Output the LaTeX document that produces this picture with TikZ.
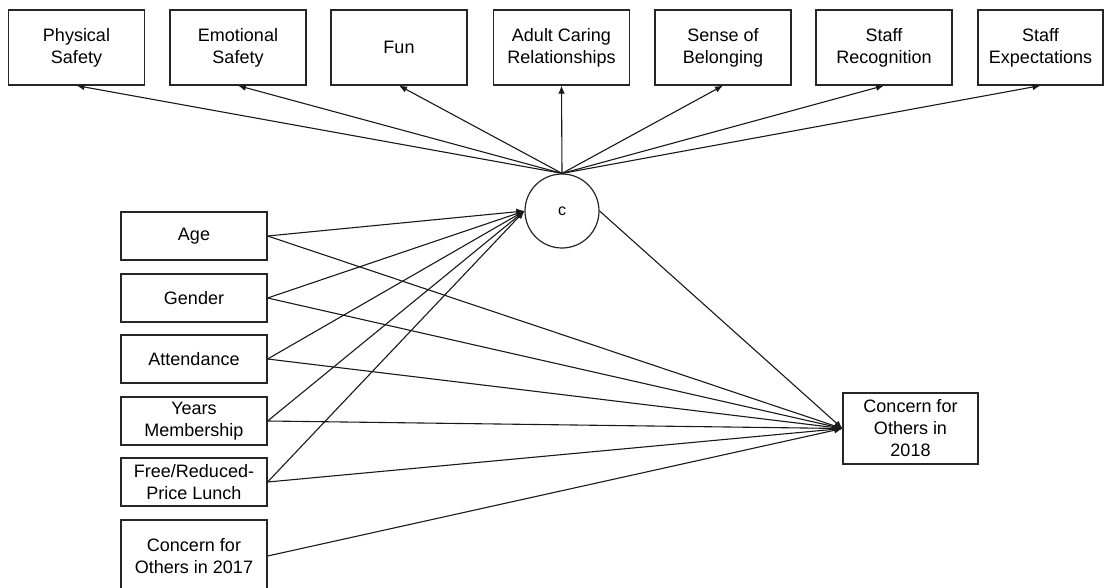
\documentclass[tikz,border=0pt]{standalone}
\usepackage{fontspec}
\setmainfont{Liberation Sans}
\usetikzlibrary{arrows.meta}
\begin{document}
\begin{tikzpicture}[x=1pt,y=-1pt,
  every node/.style={font=\fontsize{18}{22}\selectfont, align=center, inner sep=0pt},
  topbox/.style={draw=black!85, line width=1.2pt, minimum width=136pt, minimum height=75pt},
  leftbox/.style={draw=black!85, line width=1.2pt, minimum width=146pt, minimum height=48pt},
  latent/.style={draw=black!85, line width=1.2pt, circle, minimum size=74pt},
  path/.style={draw=black!90, line width=1.1pt, -{Latex[length=8pt,width=6.5pt]}}
]
\clip (0,0) rectangle (1105,588);
\fill[white] (0,0) rectangle (1105,588);
% latent
\node[latent, font=\fontsize{16}{18}\selectfont] (c) at (562,211) {c};
% top indicators
\node[topbox] (ps) at (76.5,47.5) {Physical\\Safety};
\node[topbox] (es) at (238,47.5) {Emotional\\Safety};
\node[topbox] (fun) at (399,47.5) {Fun};
\node[topbox] (acr) at (561.5,47.5) {Adult Caring\\Relationships};
\node[topbox] (sb) at (723,47.5) {Sense of\\Belonging};
\node[topbox] (sr) at (884,47.5) {Staff\\Recognition};
\node[topbox, minimum width=125pt] (se) at (1040.5,47.5) {Staff\\Expectations};
% left predictors
\node[leftbox] (age) at (194,236) {Age};
\node[leftbox] (gen) at (194,298) {Gender};
\node[leftbox] (att) at (194,359) {Attendance};
\node[leftbox] (yrs) at (194,421) {Years\\Membership};
\node[leftbox] (frl) at (194,482) {Free/Reduced-\\Price Lunch};
\node[leftbox, minimum height=72pt] (c17) at (194,556) {Concern for\\Others in 2017};
% outcome
\node[topbox, minimum width=135pt, minimum height=71pt] (c18) at (910.5,428.5) {Concern for\\Others in\\2018};
% measurement paths
\foreach \t in {ps,es,fun,acr,sb,sr,se}
  \draw[path] (c.north) -- (\t.south);
% predictor paths to c
\foreach \s in {age,gen,att,yrs,frl}
  \draw[path] (\s.east) -- (c.west);
% paths to outcome
\foreach \s in {age,gen,att,yrs,frl,c17}
  \draw[path] (\s.east) -- (c18.west);
\draw[path] (c.east) -- (c18.west);
\end{tikzpicture}
\end{document}
